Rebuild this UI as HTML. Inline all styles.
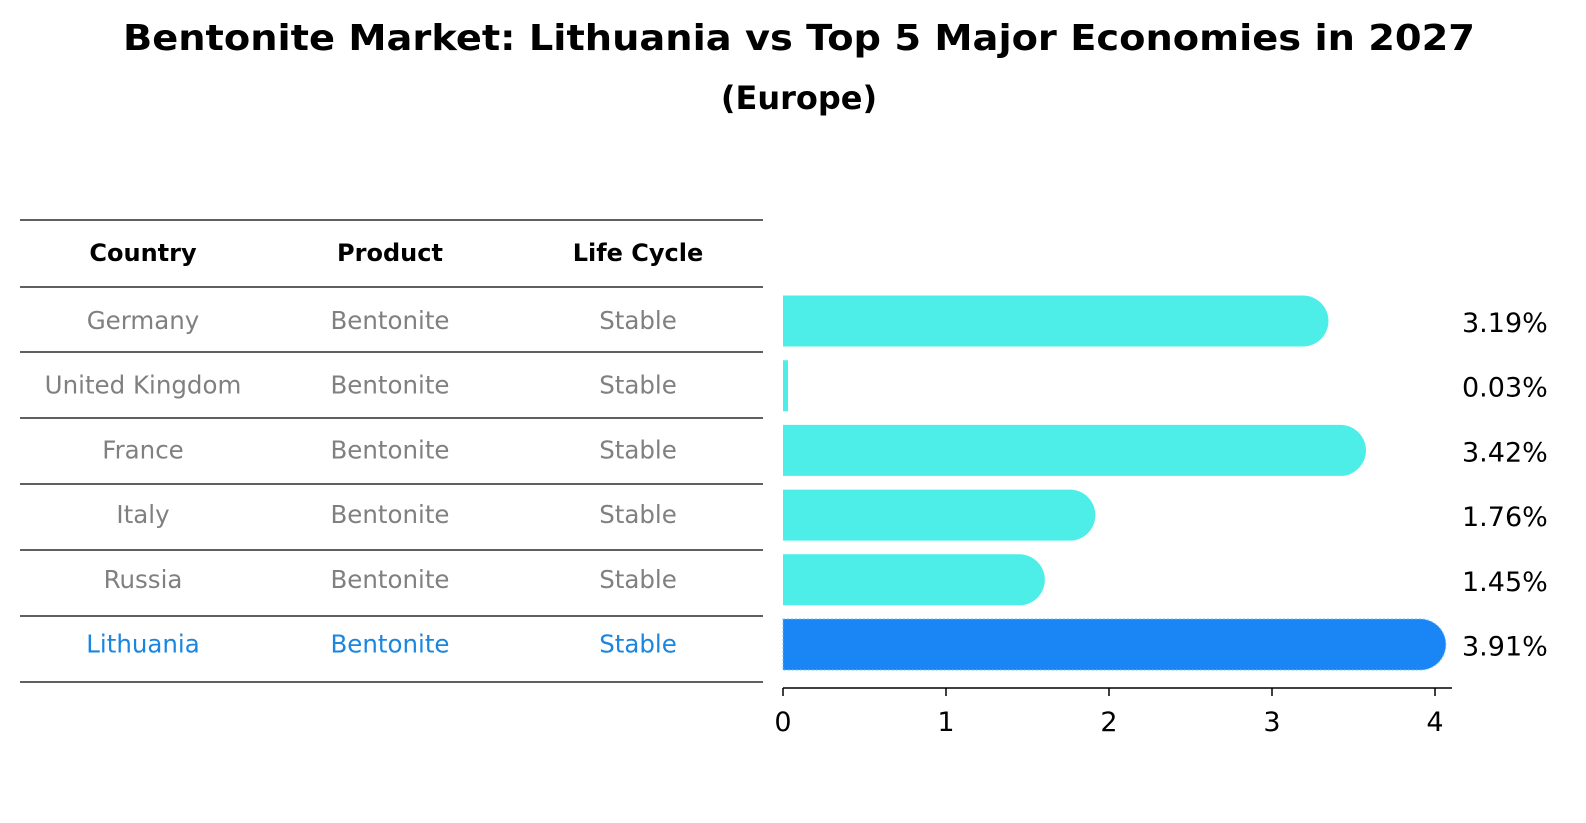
<!DOCTYPE html>
<html><head><meta charset="utf-8"><style>
body{margin:0;background:#fff;font-family:"DejaVu Sans","Liberation Sans",sans-serif}
svg{display:block}
</style></head><body>
<svg width="1586" height="823" xmlns="http://www.w3.org/2000/svg">
<text x="799" y="50" text-anchor="middle" font-size="36" font-weight="bold" textLength="1352" lengthAdjust="spacingAndGlyphs">Bentonite Market: Lithuania vs Top 5 Major Economies in 2027</text>
<text x="799" y="109" text-anchor="middle" font-size="32" font-weight="bold">(Europe)</text>
<g id="table"></g>
<g id="bars"></g>
</svg>
<script>
const countries=["Germany","United Kingdom","France","Italy","Russia","Lithuania"];
const products=["Bentonite","Bentonite","Bentonite","Bentonite","Bentonite","Bentonite"];
const lifecycle=["Stable","Stable","Stable","Stable","Stable","Stable"];
const values=[3.19,0.03,3.42,1.76,1.45,3.91];
const ticks=[0,1,2,3,4];
const NS="http://www.w3.org/2000/svg";
function mk(t,a,p){const e=document.createElementNS(NS,t);for(const k in a)e.setAttribute(k,a[k]);p.appendChild(e);return e;}
const tb=document.getElementById('table'),bg=document.getElementById('bars');
const lineYs=[220,287,352,418,484,550,616,682];
const colX=[143,390,638];
lineYs.forEach(y=>{const l=mk('line',{x1:20,x2:763,y1:y,y2:y,stroke:'#000','stroke-width':1.2},tb);

});
["Country","Product","Life Cycle"].forEach((h,i)=>{const t=mk('text',{x:colX[i],y:261,'text-anchor':'middle','font-size':24,'font-weight':'bold'},tb);t.textContent=h;

});
const xs=v=>783+v*163;
const rowY=i=>321+i*64.7;
const r=25.5;
countries.forEach((c,i)=>{
 const last=i===countries.length-1;
 const col=last?'#1a86e0':'#808080';
 [c,products[i],lifecycle[i]].forEach((s,j)=>{const t=mk('text',{x:colX[j],y:rowY(i)+8,'text-anchor':'middle','font-size':24.5,fill:col},tb);t.textContent=s;
 
 });
 const y0=rowY(i)-r, xv=xs(values[i]);
 let d;
 if(values[i]>0.2){d=`M783 ${y0} H${xv} A${r} ${r} 0 0 1 ${xv} ${y0+2*r} H783 Z`;}
 else{d=`M783 ${y0} H${Math.max(xv,788)} V${y0+2*r} H783 Z`;}
 const b=mk('path',{d:d,fill:last?'#1a86f5':'#4deee8'},bg);
 if(last){b.setAttribute('stroke','#6ac0ff');b.setAttribute('stroke-dasharray','2 2');}
 
 
 const t=mk('text',{x:1462,y:rowY(i)+11,'font-size':27},bg);t.textContent=values[i].toFixed(2)+'%';
 
 
});
const ax=mk('line',{x1:783,x2:1452,y1:688,y2:688,stroke:'#000','stroke-width':1.5},bg);


ticks.forEach(v=>{const l=mk('line',{x1:xs(v),x2:xs(v),y1:688,y2:696,stroke:'#000','stroke-width':1.5},bg);


const t=mk('text',{x:xs(v),y:731,'text-anchor':'middle','font-size':27},bg);t.textContent=v;

});
</script>
</body></html>
